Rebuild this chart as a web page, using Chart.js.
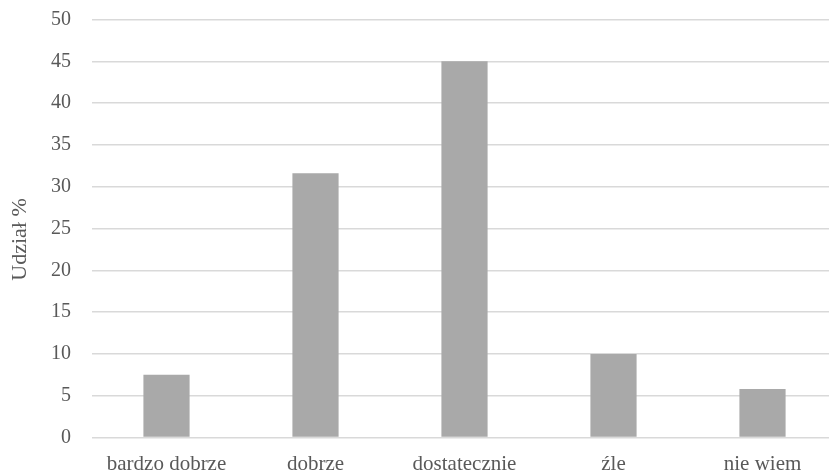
<!DOCTYPE html>
<html>
<head>
<meta charset="utf-8">
<script src="https://cdn.jsdelivr.net/npm/chart.js@4"></script>
<style>
  html, body { margin: 0; padding: 0; background: #fff; overflow: hidden; }
  #wrap { width: 840px; height: 471px; }
</style>
</head>
<body>
<div id="wrap"><canvas id="chart"></canvas></div>
<script>
// categories and values
const categories = ['bardzo dobrze', 'dobrze', 'dostatecznie', 'źle', 'nie wiem'];
const shares = [7.5, 31.6, 45.0, 10.0, 5.8];
const yTicks = [0, 5, 10, 15, 20, 25, 30, 35, 40, 45, 50];
const yTitle = 'Udział %';

const serif = '"Liberation Serif", "Times New Roman", serif';

new Chart(document.getElementById('chart'), {
    type: 'bar',
    data: {
        labels: categories,
        datasets: [{
            data: shares,
            backgroundColor: '#a9a9a9',
            barPercentage: 0.31,
            categoryPercentage: 1
        }]
    },
    options: {
        responsive: true,
        maintainAspectRatio: false,
        animation: false,
        layout: {padding: {top: 19.5, right: 3, bottom: 0, left: 0}},
        plugins: {legend: {display: false}, tooltip: {enabled: false}},
        scales: {
            x: {
                grid: {display: false},
                border: {display: false},
                ticks: {color: '#595959', font: {family: serif, size: 21}, padding: 6, maxRotation: 0},
                afterFit: s => { s.height = 33.5; }
            },
            y: {
                min: yTicks[0],
                max: yTicks[yTicks.length - 1],
                afterBuildTicks: s => { s.ticks = yTicks.map(v => ({value: v})); },
                grid: {color: '#d9d9d9', lineWidth: 1.5, drawTicks: false},
                border: {display: false},
                ticks: {color: '#595959', font: {family: serif, size: 20}, padding: 21},
                // trailing spaces nudge the rotated title a little down, as in the original
                title: {display: true, text: yTitle + '    ', color: '#595959', font: {family: serif, size: 22}, padding: {top: 7, bottom: 0}},
                afterFit: s => { s.width = 92; s.paddingTop = 0; s.paddingBottom = 0; }
            }
        }
    }
});
</script>
</body>
</html>
